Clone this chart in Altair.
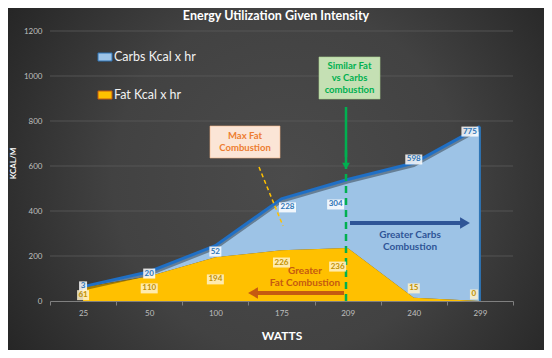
import altair as alt
import pandas as pd

# ---------------- data ----------------
watts = ["25", "50", "100", "175", "209", "240", "299"]
carbs = [3, 20, 52, 228, 304, 598, 775]
fat = [61, 110, 194, 226, 236, 15, 0]
series = ["Carbs Kcal x hr", "Fat Kcal x hr"]
# where the data labels sit (in KCAL units)
carbs_label_at = [65, 122, 220, 416, 429, 629, 753]
fat_label_at = [26, 56, 96, 171, 153, 56, 29]
y_ticks = [0, 200, 400, 600, 800, 1000, 1200]
grid_ticks = [200, 400, 600, 800, 1000, 1200]
TITLE = "Energy Utilization Given Intensity"

FONT = "Lato"
W, H = 463, 270
PAD = {"left": 42, "top": 23, "right": 31, "bottom": 49}

wide = pd.DataFrame({"watts": watts, "carbs": carbs, "fat": fat,
                     "carbs_at": carbs_label_at, "fat_at": fat_label_at})
long = pd.DataFrame({
    "watts": watts * 2,
    "series": [series[0]] * len(watts) + [series[1]] * len(watts),
    "value": carbs + fat,
    "ord": [1] * len(watts) + [0] * len(watts),
})
one = pd.DataFrame({"a": [0]})
grid_df = pd.DataFrame({"tick": grid_ticks})

xscale = alt.Scale(type="band", domain=watts, paddingInner=0, paddingOuter=0)
yscale = alt.Scale(domain=[0, 1200], nice=False)

xaxis = alt.Axis(title="WATTS", labelAngle=0, labelColor="#bfbfbf", labelFontSize=8,
                 labelFont=FONT, labelPadding=4, tickBand="extent", ticks=True,
                 tickColor="#808080", tickSize=4, domainColor="#808080", domainWidth=1,
                 grid=False, titleColor="white", titleFontSize=12, titleFont=FONT,
                 titleFontWeight="bold", titlePadding=13, zindex=1)
yaxis = alt.Axis(values=y_ticks, format="d", grid=False, domain=False, ticks=False,
                 labelColor="#bfbfbf", labelFontSize=8, labelFont=FONT, labelPadding=8,
                 title="KCAL/M", titleColor="white", titleFontSize=8, titleFont=FONT,
                 titleFontWeight="bold", titleX=-37, titleY=132, titleAngle=-90,
                 titleAlign="center", titleBaseline="middle", zindex=1)


def X():
    return alt.X("watts:O", scale=xscale, bandPosition=0.5, axis=xaxis, title="WATTS")


def Y(field, **kw):
    return alt.Y(field, scale=yscale, axis=yaxis, title="KCAL/M", **kw)


# ---------------- background ----------------
bg = alt.Chart(one).mark_rect(
    color={"gradient": "radial", "x1": 0.52, "y1": 0.5, "r1": 0.0,
           "x2": 0.52, "y2": 0.5, "r2": 0.72,
           "stops": [{"offset": 0, "color": "#4b4b4b"},
                     {"offset": 0.45, "color": "#424242"},
                     {"offset": 1, "color": "#1b1b1b"}]}
).encode(x=alt.value(-PAD["left"]), x2=alt.value(W + PAD["right"]),
         y=alt.value(-PAD["top"]), y2=alt.value(H + PAD["bottom"]))

title = alt.Chart(one).mark_text(text=TITLE, font=FONT, fontSize=12.5, fontWeight="bold",
                                 color="white", baseline="middle").encode(
    x=alt.value(W / 2 - 5.5), y=alt.value(-15))

grid = alt.Chart(grid_df).mark_rule(color="#5a5a5a", strokeWidth=0.8).encode(y=Y("tick:Q"))

# ---------------- stacked areas ----------------
areas = alt.Chart(long).mark_area(opacity=1).encode(
    x=X(),
    y=Y("value:Q", stack="zero"),
    color=alt.Color("series:N", scale=alt.Scale(domain=series, range=["#9dc3e6", "#ffc000"]),
                    legend=None),
    order=alt.Order("ord:Q"),
)

total_base = alt.Chart(wide).transform_calculate(total="datum.carbs + datum.fat")
shadow = total_base.mark_line(color="black", opacity=0.35, strokeWidth=3, yOffset=2.5).encode(
    x=X(), y=Y("total:Q"))
top_line = total_base.mark_line(color="#1f6fc5", strokeWidth=3).encode(x=X(), y=Y("total:Q"))
right_edge = total_base.transform_filter("datum.watts == '299'").mark_rule(
    color="#2e75b6", strokeWidth=2).encode(x=X(), y=Y("total:Q"), y2=alt.datum(0))

# ---------------- data labels ----------------
BOX = ("length(toString(datum.v)) == 1 ? 'M-4,-5H4V5H-4Z' : "
       "(length(toString(datum.v)) == 2 ? 'M-6,-5H6V5H-6Z' : 'M-8.5,-5H8.5V5H-8.5Z')")


def label_layers(field, at_field, box_fill, text_color, nudges):
    """Labels with a box; `nudges` maps a category to a small horizontal pixel shift."""
    layers = []
    groups = {}
    for w in watts:
        groups.setdefault(nudges.get(w, 0), []).append(w)
    for shift, cats in groups.items():
        base = alt.Chart(wide).transform_filter(
            alt.FieldOneOfPredicate(field="watts", oneOf=cats)
        ).transform_calculate(v=f"datum.{field}", box=BOX)
        layers.append(base.mark_point(filled=True, size=4, fill=box_fill, opacity=0.85,
                                      strokeWidth=0, xOffset=shift).encode(
            x=X(), y=Y(f"{at_field}:Q"), shape=alt.Shape("box:N", scale=None, legend=None)))
        layers.append(base.mark_text(font=FONT, fontSize=8, fontWeight="bold", color=text_color,
                                     baseline="middle", xOffset=shift).encode(
            x=X(), y=Y(f"{at_field}:Q"), text=f"{field}:Q"))
    return layers


carb_labels = label_layers("carbs", "carbs_at", "#ffffff", "#2e75b6",
                           {"175": 6, "209": -12, "299": -10})
fat_labels = label_layers("fat", "fat_at", "#fff2cc", "#bf9000",
                          {"209": -10, "299": -6})

# ---------------- legend (manual, inside plot) ----------------
leg = []
for i, (name, fill, stroke) in enumerate(zip(series, ["#9dc3e6", "#ffc000"], ["#2e75b6", "#c55a11"])):
    yy = 22 + i * 38
    leg.append(alt.Chart(one).mark_rect(fill=fill, stroke=stroke, strokeWidth=1).encode(
        x=alt.value(48), x2=alt.value(62), y=alt.value(yy), y2=alt.value(yy + 8)))
    leg.append(alt.Chart(one).mark_text(text=name, font=FONT, fontSize=12.5, color="#f2f2f2",
                                        align="left", baseline="middle").encode(
        x=alt.value(64), y=alt.value(yy + 4)))


def note(text, x, y_first, color, size):
    return alt.Chart(one).mark_text(text=text, lineBreak="\n", lineHeight=12, font=FONT,
                                    fontSize=size, fontWeight="bold", color=color,
                                    baseline="middle").encode(x=alt.value(x), y=alt.value(y_first))


# ---------------- annotations ----------------
ann = []
# Max fat box
ann.append(alt.Chart(one).mark_rect(fill="#fbe5d6", stroke="#f4b183", strokeWidth=0.6).encode(
    x=alt.value(160), x2=alt.value(230), y=alt.value(95), y2=alt.value(127)))
ann.append(note("Max Fat\nCombustion", 195, 104.5, "#ed7d31", 9.5))
ann.append(alt.Chart(one).mark_rule(color="#ffc000", strokeWidth=1.5, strokeDash=[4, 3]).encode(
    x=alt.value(209), x2=alt.value(233), y=alt.value(136), y2=alt.value(195)))
# Similar box
ann.append(alt.Chart(one).mark_rect(fill="#c5e0b4", stroke="#a9d18e", strokeWidth=0.6).encode(
    x=alt.value(269), x2=alt.value(330), y=alt.value(26), y2=alt.value(68)))
ann.append(note("Similar Fat\nvs Carbs\ncombustion", 299.5, 34.5, "#00b050", 9.5))
ann.append(alt.Chart(one).mark_rule(color="#00b050", strokeWidth=2.5).encode(
    x=alt.value(296), y=alt.value(76), y2=alt.value(131)))
ann.append(alt.Chart(one).mark_point(shape="triangle-down", filled=True, size=60, opacity=1,
                                     color="#00b050").encode(x=alt.value(296), y=alt.value(135)))
ann.append(alt.Chart(one).mark_rule(color="#00b050", strokeWidth=2.5, strokeDash=[7, 5]).encode(
    x=alt.value(296), y=alt.value(119), y2=alt.value(270)))
# Greater carbs
ann.append(alt.Chart(one).mark_rule(color="#2f5597", strokeWidth=4).encode(
    x=alt.value(300), x2=alt.value(412), y=alt.value(192)))
ann.append(alt.Chart(one).mark_point(shape="triangle-right", filled=True, size=130, opacity=1,
                                     color="#2f5597").encode(x=alt.value(415), y=alt.value(192)))
ann.append(note("Greater Carbs\nCombustion", 360, 204, "#2f5597", 10))
# Greater fat
ann.append(alt.Chart(one).mark_rule(color="#c55a11", strokeWidth=4).encode(
    x=alt.value(206), x2=alt.value(294), y=alt.value(262)))
ann.append(alt.Chart(one).mark_point(shape="triangle-left", filled=True, size=130, opacity=1,
                                     color="#c55a11").encode(x=alt.value(203), y=alt.value(262)))
ann.append(note("Greater\nFat Combustion", 255, 240, "#c55a11", 10))

chart = alt.layer(
    bg, title, grid, areas, shadow, top_line, right_edge,
    *ann, *carb_labels, *fat_labels, *leg
).properties(
    width=W, height=H,
    padding=PAD,
    autosize=alt.AutoSizeParams(type="none"),
    background="#2a2a2a",
).configure_view(stroke=None)

chart.save("out.html", embed_options={"renderer": "svg", "actions": False})
